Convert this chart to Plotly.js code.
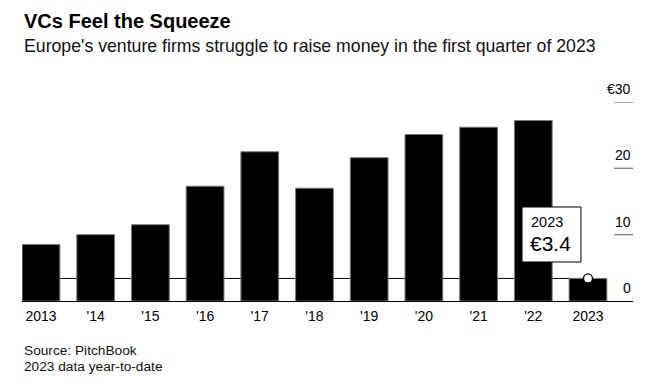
<!DOCTYPE html>
<html>
<head>
<meta charset="utf-8">
<script src="https://cdn.plot.ly/plotly-3.0.1.min.js"></script>
<style>html,body{margin:0;padding:0;background:#fff;}#chart{width:669px;height:385px;}</style>
</head>
<body>
<div id="chart"></div>
<script>
var categories = ["2013", "'14", "'15", "'16", "'17", "'18", "'19", "'20", "'21", "'22", "2023"];
var values = [8.5, 10.0, 11.5, 17.3, 22.5, 17.0, 21.6, 25.1, 26.2, 27.2, 3.4];
var yTickValues = [0, 10, 20, 30];
var yTickLabels = ["0", "10", "20", "€30"];
var highlightLabel = "2023";
var highlightValueText = "€3.4";

var idx = categories.map(function (c, i) { return i; });
var last = values.length - 1;
var FONT = "Liberation Sans, Arial, Helvetica, sans-serif";

var traces = [
  {
    type: "bar",
    x: idx,
    y: values,
    width: 0.69,
    marker: { color: "#000", line: { color: "#777", width: 1 } },
    hoverinfo: "none"
  },
  {
    type: "scatter",
    mode: "markers",
    x: [last],
    y: [values[last]],
    marker: { color: "#fff", size: 9, line: { color: "#000", width: 1.3 } },
    cliponaxis: false,
    hoverinfo: "none"
  }
];

var shapes = [
  { type: "line", xref: "x", yref: "y", x0: 0, x1: last, y0: values[last], y1: values[last],
    line: { color: "#000", width: 1 }, layer: "below" },
  { type: "rect", xref: "x", yref: "y", x0: 8.794, x1: 9.872, y0: 5.88, y1: 14.17,
    fillcolor: "#fff", line: { color: "#000", width: 1 }, layer: "above" }
];
var annotations = [];
yTickValues.forEach(function (v, i) {
  if (v !== 0) {
    shapes.push({ type: "line", xref: "paper", yref: "y", x0: 0.969, x1: 1, y0: v, y1: v,
      line: { color: "#888", width: 1.5 } });
  }
  annotations.push({ xref: "paper", yref: "y", x: 1.0, y: v, xanchor: "right", yanchor: "bottom",
    yshift: 3, text: yTickLabels[i], showarrow: false, font: { family: FONT, size: 14, color: "#000" } });
});

annotations.push(
  { xref: "paper", yref: "paper", x: 0, y: 1.407, xanchor: "left", yanchor: "middle",
    text: "<b>VCs Feel the Squeeze</b>", showarrow: false, font: { family: FONT, size: 20, color: "#000" } },
  { xref: "paper", yref: "paper", x: 0, y: 1.279, xanchor: "left", yanchor: "middle",
    text: "Europe's venture firms struggle to raise money in the first quarter of 2023", showarrow: false,
    font: { family: FONT, size: 17.7, color: "#111" } },
  { xref: "paper", yref: "paper", x: 0, y: -0.249, xanchor: "left", yanchor: "middle",
    text: "Source: PitchBook", showarrow: false, font: { family: FONT, size: 13.7, color: "#111" } },
  { xref: "paper", yref: "paper", x: 0, y: -0.327, xanchor: "left", yanchor: "middle",
    text: "2023 data year-to-date", showarrow: false, font: { family: FONT, size: 13.7, color: "#111" } },
  { xref: "x", yref: "y", x: 8.922, y: 11.96, xanchor: "left", yanchor: "middle",
    text: highlightLabel, showarrow: false, font: { family: FONT, size: 14.5, color: "#000" } },
  { xref: "x", yref: "y", x: 8.9, y: 8.6, xanchor: "left", yanchor: "middle",
    text: highlightValueText, showarrow: false, font: { family: FONT, size: 21, color: "#000" } }
);

var layout = {
  width: 669, height: 385,
  margin: { l: 22, r: 36, t: 102, b: 84, pad: 0 },
  paper_bgcolor: "#fff", plot_bgcolor: "#fff",
  showlegend: false,
  xaxis: {
    type: "linear", range: [-0.347, last + 0.823], tickvals: idx, ticktext: categories,
    showgrid: false, zeroline: false, showline: true, linecolor: "#000", linewidth: 1,
    ticks: "", ticklabelstandoff: 2, tickfont: { family: FONT, size: 14, color: "#000" }, fixedrange: true
  },
  yaxis: {
    range: [0, 30], showgrid: false, zeroline: false, showline: false, showticklabels: false,
    ticks: "", fixedrange: true
  },
  shapes: shapes,
  annotations: annotations
};

Plotly.newPlot("chart", traces, layout, { displayModeBar: false, staticPlot: true });
</script>
</body>
</html>
